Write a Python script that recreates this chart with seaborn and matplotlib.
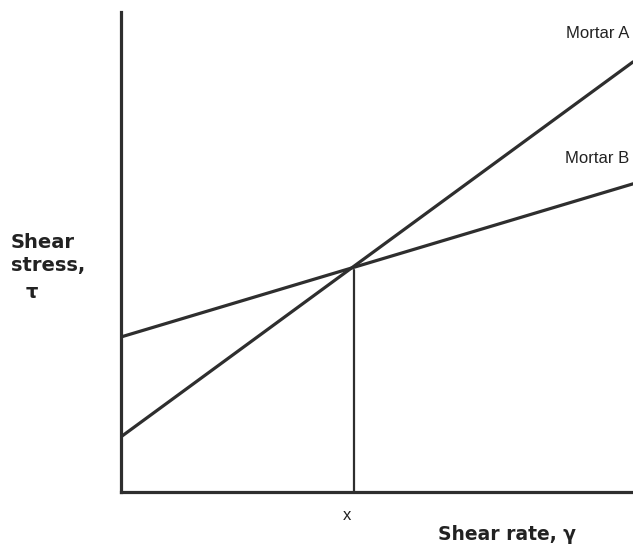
import pandas as pd
import numpy as np
import matplotlib.pyplot as plt
import seaborn as sns

sns.set_style("white")
plt.rcParams['font.family'] = ['Liberation Sans', 'DejaVu Sans']

# Valores (unidades arbitrárias)
shear_rate = [0.0, 10.0]
stress_a = [1.15, 8.96]
stress_b = [3.23, 6.42]
series = ['Mortar A', 'Mortar B']
x_mark = 4.55
y_mark = 4.62

df = pd.DataFrame({
    'rate': shear_rate * 2,
    'stress': stress_a + stress_b,
    'mortar': [series[0]] * 2 + [series[1]] * 2,
})

fig = plt.figure(figsize=(6.33, 5.47), dpi=100)
ax = fig.add_axes([121 / 633, 55 / 547, 1 - 121 / 633, 480 / 547])

sns.lineplot(data=df, x='rate', y='stress', hue='mortar',
             palette=['#2e2e2e', '#2e2e2e'], linewidth=2.3, legend=False, ax=ax)
ax.plot([x_mark, x_mark], [0, y_mark], color='#2e2e2e', linewidth=1.6)

ax.set_xlim(0, 10)
ax.set_ylim(0, 10)
ax.set_xticks([])
ax.set_yticks([])
ax.set_xlabel('')
ax.set_ylabel('')
sns.despine(ax=ax)
for s in ['left', 'bottom']:
    ax.spines[s].set_color('#2e2e2e')
    ax.spines[s].set_linewidth(2.3)

# rótulos das séries
ax.text(9.92, 9.55, series[0], ha='right', va='center', fontsize=12, color='#222222')
ax.text(9.92, 6.95, series[1], ha='right', va='center', fontsize=12, color='#222222')

# rótulos dos eixos
bold = dict(fontsize=14, fontweight='bold', color='#222222', family='DejaVu Sans')
fig.text(347 / 633, 1 - 516 / 547, 'x', ha='center', va='center', fontsize=12, color='#222222')
fig.text(438 / 633, 1 - 535 / 547, 'Shear rate, γ', ha='left', va='center',
         **{**bold, 'fontsize': 13.5})
fig.text(11 / 633, 1 - 243 / 547, 'Shear', ha='left', va='center', **bold)
fig.text(11 / 633, 1 - 266 / 547, 'stress,', ha='left', va='center', **bold)
fig.text(32 / 633, 1 - 292 / 547, 'τ', ha='center', va='center', **bold)

plt.savefig('out.png', dpi=100)
